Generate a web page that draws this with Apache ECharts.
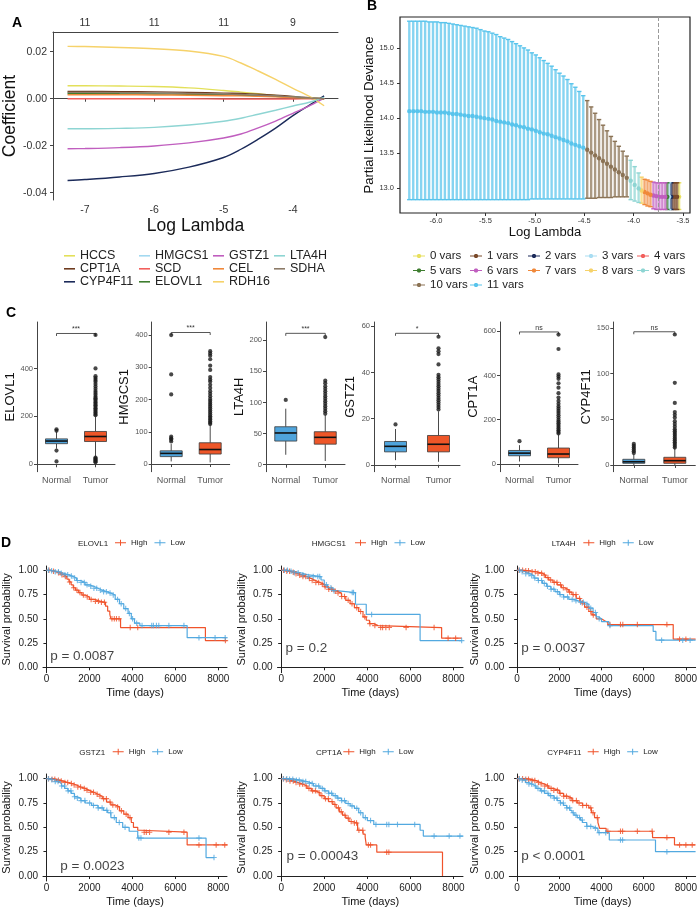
<!DOCTYPE html>
<html>
<head>
<meta charset="utf-8">
<title>LASSO, expression and survival figure</title>
<script src="https://cdn.jsdelivr.net/npm/echarts@6/dist/echarts.min.js"></script>
<style>
html,body{margin:0;padding:0;background:#ffffff;}
#main{width:700px;height:908px;}
</style>
</head>
<body>
<div id="main"></div>
<script>
// ================= DATA =================
// ---- Panel A: LASSO coefficient paths ----
const lassoGenes = ['HCCS','CPT1A','CYP4F11','HMGCS1','SCD','ELOVL1','GSTZ1','CEL','RDH16','LTA4H','SDHA'];
const lassoLogLambda = [-7.25,-7.0,-6.5,-6.0,-5.5,-5.0,-4.75,-4.5,-4.25,-4.0,-3.75,-3.55];
const coefHCCS    = [0.0055,0.0055,0.0054,0.0052,0.0046,0.0035,0.0028,0.0021,0.0014,0.0008,0.0002,0.0000];
const coefCPT1A   = [0.0031,0.0031,0.0030,0.0029,0.0027,0.0024,0.0022,0.0019,0.0015,0.0010,0.0004,0.0000];
const coefCYP4F11 = [-0.0348,-0.0344,-0.0333,-0.0318,-0.0291,-0.0250,-0.0215,-0.0172,-0.0125,-0.0072,-0.0025,0.0012];
const coefHMGCS1  = [0.0024,0.0024,0.0023,0.0022,0.0021,0.0018,0.0016,0.0014,0.0011,0.0007,0.0003,0.0000];
const coefSCD     = [0.0000,0.0000,0.0000,0.0000,0.0000,-0.0001,-0.0001,-0.0001,-0.0001,-0.0001,0.0000,0.0000];
const coefELOVL1  = [0.0022,0.0022,0.0021,0.0020,0.0019,0.0017,0.0015,0.0013,0.0010,0.0006,0.0002,0.0000];
const coefGSTZ1   = [-0.0213,-0.0212,-0.0208,-0.0201,-0.0188,-0.0167,-0.0150,-0.0124,-0.0095,-0.0062,-0.0028,0.0003];
const coefCEL     = [0.0017,0.0017,0.0017,0.0016,0.0015,0.0013,0.0012,0.0010,0.0008,0.0005,0.0002,0.0000];
const coefRDH16   = [0.0223,0.0222,0.0218,0.0213,0.0203,0.0180,0.0152,0.0118,0.0082,0.0044,0.0008,-0.0030];
const coefLTA4H   = [-0.0128,-0.0128,-0.0126,-0.0122,-0.0112,-0.0096,-0.0083,-0.0066,-0.0049,-0.0031,-0.0014,0.0006];
const coefSDHA    = [0.0027,0.0027,0.0026,0.0025,0.0023,0.0020,0.0018,0.0015,0.0012,0.0008,0.0003,0.0000];
const lassoXTicks = [-7,-6,-5,-4];
const lassoTopLabels = ['11','11','11','9'];
const lassoYTicks = [-0.04,-0.02,0,0.02];

// ---- Panel B: cross-validation curve ----
const cvLogLambda = [
-6.27,-6.23,-6.19,-6.15,-6.11,-6.07,-6.03,-5.99,-5.95,-5.91,
-5.87,-5.83,-5.79,-5.75,-5.71,-5.67,-5.63,-5.59,-5.55,-5.51,
-5.47,-5.43,-5.39,-5.35,-5.31,-5.27,-5.23,-5.19,-5.15,-5.11,
-5.07,-5.03,-4.99,-4.95,-4.91,-4.87,-4.83,-4.79,-4.75,-4.71,
-4.67,-4.63,-4.59,-4.55,-4.51,
-4.47,-4.43,-4.39,-4.35,-4.31,-4.27,-4.23,-4.19,-4.15,-4.11,-4.07,
-4.03,-3.99,-3.95,
-3.92,
-3.89,-3.86,-3.83,
-3.80,-3.77,-3.74,-3.71,-3.68,
-3.66,
-3.64,
-3.62,
-3.60,-3.58,-3.56,
-3.54];
const cvMean = [
14.10,14.10,14.10,14.10,14.09,14.09,14.09,14.08,14.08,14.08,
14.07,14.06,14.06,14.05,14.04,14.03,14.03,14.02,14.01,14.00,
13.99,13.98,13.96,13.95,13.94,13.93,13.91,13.90,13.88,13.87,
13.85,13.84,13.82,13.80,13.78,13.77,13.75,13.73,13.71,13.69,
13.67,13.64,13.62,13.60,13.58,
13.55,13.51,13.47,13.43,13.39,13.35,13.31,13.27,13.23,13.19,13.15,
13.11,13.05,13.00,
12.97,
12.95,12.93,12.91,
12.90,12.89,12.88,12.88,12.88,
12.88,
12.88,
12.88,
12.88,12.88,12.88,
12.88];
const cvUpper = [
15.38,15.38,15.38,15.38,15.38,15.37,15.37,15.37,15.36,15.36,
15.35,15.34,15.33,15.32,15.31,15.30,15.29,15.28,15.26,15.24,
15.23,15.21,15.19,15.16,15.14,15.12,15.09,15.06,15.03,15.00,
14.97,14.93,14.90,14.86,14.82,14.78,14.74,14.69,14.64,14.60,
14.55,14.49,14.44,14.38,14.32,
14.25,14.16,14.07,13.98,13.90,13.82,13.74,13.67,13.60,13.53,13.46,
13.40,13.31,13.22,
13.16,
13.13,13.12,13.10,
13.09,13.08,13.08,13.08,13.08,
13.08,
13.08,
13.08,
13.08,13.08,13.08,
13.08];
const cvLower = [
12.84,12.84,12.84,12.84,12.84,12.84,12.84,12.84,12.84,12.84,
12.84,12.84,12.84,12.84,12.84,12.84,12.84,12.84,12.84,12.84,
12.84,12.84,12.84,12.84,12.84,12.84,12.84,12.84,12.84,12.84,
12.84,12.85,12.85,12.85,12.85,12.85,12.85,12.85,12.85,12.85,
12.85,12.85,12.85,12.85,12.85,
12.86,12.86,12.86,12.87,12.87,12.87,12.87,12.88,12.88,12.88,12.88,
12.84,12.82,12.80,
12.79,
12.77,12.75,12.74,
12.71,12.70,12.70,12.70,12.70,
12.70,
12.70,
12.70,
12.70,12.70,12.70,
12.70];
const cvVars = [
11,11,11,11,11,11,11,11,11,11,
11,11,11,11,11,11,11,11,11,11,
11,11,11,11,11,11,11,11,11,11,
11,11,11,11,11,11,11,11,11,11,
11,11,11,11,11,
10,10,10,10,10,10,10,10,10,10,10,
9,9,9,
8,
7,7,7,
6,6,6,6,6,
5,
3,
2,
1,1,1,
0];
const cvLambdaMin = -3.75;
const cvXTicks = [-6.0,-5.5,-5.0,-4.5,-4.0,-3.5];
const cvYTicks = [13.0,13.5,14.0,14.5,15.0];

// ---- Panel C: expression boxplots [min, Q1, median, Q3, max] ----
const boxGenes = ['ELOVL1','HMGCS1','LTA4H','GSTZ1','CPT1A','CYP4F11'];
const boxGroups = ['Normal','Tumor'];
const boxNormal = [[65,86,97,106,135],[8,23,33,41,62],[16,38,51,61,90],[2,5.6,8.0,10.1,15.5],[11,37,49,61,85],[0,1.8,3.5,6.2,11.5]];
const boxTumor  = [[32,95,116,137,200],[5,31,45,66,120],[6,33,44,53,80],[1.3,5.6,8.9,12.7,23.2],[3,28,45,72,134],[0,1.8,4.7,8.4,18.5]];
const outNormal = [
  [140,146,57,12],
  [70,76,80,85,216,278,400],
  [104],
  [17.5],
  [103],
  [13,15,17,19,21,23]
];
const outTumor = [
  [205,210,216,222,228,234,240,246,252,258,264,270,276,282,290,298,306,315,325,335,345,352,360,368,400,540,28,24,20,16,12,8],
  [124,128,133,138,143,148,154,160,166,172,178,184,190,196,202,210,218,226,236,246,256,262,270,292,305,325,336,343,350],
  [82,86,90,94,98,102,106,110,114,118,122,126,131,135,205],
  [24,25,26,27,28,29,30,31,32,33,34,35,36,37,38,39,43.5,48,49.2,50.5,55.5],
  [138,145,152,160,168,176,184,192,200,210,220,230,240,250,260,272,285,300,320,345,365,385,395,405,520,585],
  [19,21,23,25,27,29,31,33,35,37,39,42,45,48,52,55,58,68,90,143]
];
const sigY = [546,408,211,57,597,146];
const sigLabel = ['***','***','***','*','ns','ns'];
const boxYTicks = [[0,200,400],[0,100,200,300,400],[0,50,100,150,200],[0,20,40,60],[0,200,400,600],[0,50,100,150]];

// ---- Panel D: Kaplan-Meier curves [time, survival after drop] ----
const kmGenes = ['ELOVL1','HMGCS1','LTA4H','GSTZ1','CPT1A','CYP4F11'];
const kmPText = ['p = 0.0087','p = 0.2','p = 0.0037','p = 0.0023','p = 0.00043','p < 0.0001'];
const kmPTime = [150,180,170,620,225,170];
const kmPSurv = [0.11,0.2,0.2,0.1,0.2,0.2];
const kmHighELOVL1 = [[0,1],[200,0.99],[400,0.975],[600,0.955],[800,0.935],[950,0.91],[1050,0.88],[1150,0.85],[1250,0.82],[1350,0.795],[1500,0.77],[1650,0.745],[1800,0.725],[2000,0.70],[2250,0.68],[2500,0.67],[2750,0.63],[2850,0.58],[2950,0.545],[3000,0.50],[3450,0.41],[7400,0.275],[8390,0.275]];
const kmLowELOVL1  = [[0,1],[200,0.995],[400,0.985],[600,0.97],[800,0.955],[1000,0.94],[1200,0.92],[1400,0.895],[1600,0.875],[1800,0.85],[2000,0.835],[2200,0.815],[2400,0.795],[2600,0.78],[2800,0.765],[3000,0.745],[3200,0.70],[3400,0.655],[3600,0.605],[3800,0.555],[3950,0.50],[4100,0.455],[4350,0.43],[6550,0.305],[8390,0.305]];
const kmHighHMGCS1 = [[0,1],[200,0.99],[400,0.98],[600,0.965],[800,0.95],[1000,0.935],[1200,0.915],[1400,0.895],[1600,0.875],[1800,0.855],[2000,0.83],[2200,0.805],[2400,0.785],[2600,0.765],[2800,0.73],[3000,0.69],[3200,0.655],[3400,0.615],[3600,0.575],[3800,0.52],[3950,0.485],[4100,0.45],[4300,0.43],[4500,0.41],[7450,0.30],[8390,0.30]];
const kmLowHMGCS1  = [[0,1],[300,0.99],[600,0.975],[900,0.955],[1200,0.935],[1850,0.90],[2000,0.85],[2150,0.82],[2400,0.79],[2550,0.77],[3450,0.65],[3950,0.545],[6450,0.275],[8390,0.275]];
const kmHighLTA4H  = [[0,1],[300,0.995],[600,0.985],[900,0.97],[1200,0.95],[1350,0.925],[1500,0.90],[1700,0.875],[1900,0.85],[2100,0.82],[2250,0.80],[2450,0.775],[2600,0.75],[2800,0.71],[3000,0.665],[3200,0.62],[3400,0.575],[3550,0.54],[3750,0.50],[4000,0.48],[4150,0.465],[4300,0.44],[7400,0.29],[8460,0.29]];
const kmLowLTA4H   = [[0,1],[200,0.985],[400,0.965],[600,0.945],[800,0.92],[1000,0.895],[1200,0.865],[1400,0.835],[1600,0.805],[1800,0.78],[2000,0.75],[2200,0.725],[2450,0.70],[2700,0.685],[2900,0.67],[3200,0.65],[3400,0.61],[3600,0.565],[3750,0.52],[3850,0.50],[4000,0.47],[4350,0.43],[6450,0.37],[6580,0.28],[8460,0.28]];
const kmHighGSTZ1  = [[0,1],[200,0.995],[400,0.985],[600,0.975],[800,0.96],[1000,0.95],[1200,0.935],[1400,0.915],[1600,0.90],[1800,0.88],[2000,0.86],[2200,0.84],[2400,0.82],[2600,0.795],[2800,0.76],[3000,0.73],[3200,0.71],[3400,0.67],[3600,0.635],[3800,0.60],[3950,0.55],[4050,0.50],[4250,0.47],[4400,0.45],[6550,0.32],[8430,0.32]];
const kmLowGSTZ1   = [[0,1],[200,0.99],[400,0.97],[550,0.95],[700,0.925],[850,0.90],[1000,0.875],[1150,0.85],[1300,0.815],[1400,0.80],[1600,0.775],[1800,0.75],[2100,0.725],[2400,0.70],[2650,0.675],[2850,0.65],[3000,0.60],[3250,0.55],[3550,0.50],[3850,0.46],[4250,0.39],[7430,0.19],[7810,0.19]];
const kmHighCPT1A  = [[0,1],[200,0.99],[400,0.975],[600,0.96],[800,0.945],[1000,0.925],[1200,0.90],[1400,0.875],[1600,0.855],[1800,0.825],[2000,0.795],[2200,0.765],[2400,0.735],[2550,0.70],[2700,0.66],[2850,0.625],[3000,0.595],[3150,0.56],[3300,0.545],[3550,0.47],[3800,0.43],[3900,0.40],[3950,0.32],[4440,0.245],[7490,0]];
const kmLowCPT1A   = [[0,1],[300,0.995],[600,0.985],[900,0.97],[1200,0.95],[1500,0.925],[1800,0.90],[2000,0.875],[2200,0.85],[2400,0.825],[2600,0.80],[2800,0.775],[3000,0.745],[3200,0.72],[3400,0.695],[3600,0.65],[3800,0.60],[4000,0.57],[4300,0.53],[6450,0.47],[6600,0.41],[8460,0.41]];
const kmHighCYP4F11 = [[0,1],[300,0.995],[600,0.98],[900,0.96],[1100,0.945],[1300,0.925],[1500,0.90],[1700,0.88],[2000,0.85],[2200,0.82],[2400,0.80],[2600,0.775],[2850,0.75],[3100,0.725],[3400,0.70],[3520,0.65],[3670,0.60],[3830,0.55],[3910,0.49],[4220,0.46],[6420,0.395],[7460,0.32],[8460,0.32]];
const kmLowCYP4F11  = [[0,1],[200,0.985],[400,0.96],[550,0.945],[700,0.925],[900,0.90],[1100,0.875],[1300,0.85],[1500,0.825],[1750,0.80],[1900,0.775],[2050,0.75],[2200,0.725],[2350,0.70],[2500,0.675],[2600,0.65],[2700,0.625],[2850,0.60],[3000,0.575],[3100,0.55],[3300,0.51],[3520,0.49],[3830,0.445],[4370,0.37],[6560,0.25],[8460,0.25]];
// censoring times
const censHighELOVL1 = [120,330,560,720,880,1080,1270,1420,1560,1720,1900,2080,2280,2420,2560,2700,3050,3160,3260,3380,3900,4250,8330];
const censLowELOVL1  = [90,240,410,560,690,860,990,1160,1310,1440,1610,1760,1890,2060,2210,2340,2510,2660,2790,2960,3110,3310,3480,3690,3860,4010,4200,4450,4900,4980,5120,5230,5700,6400,7100,7850,8320];
const censHighHMGCS1 = [110,260,390,560,690,860,1010,1140,1310,1440,1610,1740,1910,2040,2210,2340,2510,2640,2810,2940,3110,3290,3510,3690,3880,4120,4350,4620,4710,4860,5020,5800,7100,7750,8100];
const censLowHMGCS1  = [150,290,460,610,790,1010,1260,1490,1700,1790,2100,2310,2450,3300,3360,4200,8380];
const censHighLTA4H  = [90,260,410,540,710,860,990,1160,1290,1460,1590,1760,1890,2060,2190,2360,2490,2660,2790,2960,3090,3310,3490,3610,4400,4900,5010,5700,7100,7700,8000];
const censLowLTA4H   = [110,240,410,560,690,840,1010,1160,1290,1440,1610,1740,1910,2040,2210,2390,2610,2790,3010,3140,3310,3490,3710,3890,4400,6850,7850,8200];
const censHighGSTZ1  = [100,260,390,560,690,860,990,1160,1290,1460,1590,1760,1890,2060,2190,2360,2490,2660,2790,2960,3090,3310,3490,3710,3890,4550,4650,4800,5700,6400,7100,7900,8300];
const censLowGSTZ1   = [90,250,410,540,710,840,1010,1140,1310,1440,1610,1790,2010,2190,2410,2590,2810,2990,3160,3390,3660,4300,4400,7100,7800];
const censHighCPT1A  = [100,240,410,560,690,860,990,1160,1290,1460,1590,1760,1890,2060,2190,2360,2490,2660,2790,2960,3110,3250,3400,3500,3610,3790,4050,4150,4900,5000];
const censLowCPT1A   = [110,260,390,540,710,840,1010,1140,1310,1440,1610,1740,1910,2040,2210,2340,2510,2640,2810,2940,3110,3290,3510,3690,3910,4150,4400,4900,5000,5400,6200,7100,7800,8300];
const censHighCYP4F11 = [90,260,410,540,710,840,1010,1140,1310,1440,1610,1740,1910,2040,2210,2340,2510,2640,2810,2940,3110,3290,3490,3600,3800,4300,4900,5000,5700,6400,7100,7700,8000,8300];
const censLowCYP4F11  = [110,240,390,560,690,860,990,1160,1290,1460,1590,1760,1890,2060,2190,2360,2490,2660,2790,2960,3090,3310,3490,3710,3890,4200,4900,5000,7100];
const kmXTicks = [0,2000,4000,6000,8000];
const kmYTicks = [0,0.25,0.5,0.75,1];

// ================= STYLE / LAYOUT =================
const FONT = "'Liberation Sans', Arial, Helvetica, sans-serif";
const AXIS_C = '#333333';
const geneColors = {HCCS:'#E3E05A',CPT1A:'#6E3B1F',CYP4F11:'#1C2B5A',HMGCS1:'#A3D9F0',SCD:'#F25F5C',ELOVL1:'#3E7D2F',GSTZ1:'#C05EBF',CEL:'#F0883A',RDH16:'#F6D26A',LTA4H:'#8ED5D3',SDHA:'#8C7B68'};
const varColors = ['#E8E05E','#7A4A2A','#1C2B5A','#A9DDF2','#F25F5C','#3E7D2F','#C05EBF','#F0883A','#F6D26A','#8ED5D3','#8B7355','#58C4EC'];
const NORMAL_C = '#4FA4DC';
const TUMOR_C = '#EE5628';
const HIGH_C = '#F0532B';
const LOW_C = '#52A9E0';
const PLUS = 'path://M4,0H6V4H10V6H6V10H4V6H0V4H4Z';
const KM_ICON = 'path://M0,2.5H11V3.5H0Z M5,0H6V6H5Z';
const CV_ICON = 'path://M0,2.5H12V3.5H0Z M5,1H7L8,2V4L7,5H5L4,4V2Z';

const boxLayout = [
  {left:37, width:78, min:-31, max:594, gap:18},
  {left:151.7, width:78, min:-23.8, max:440.6, gap:20},
  {left:266, width:79, min:-11.2, max:229.2, gap:16.5},
  {left:374, width:86, min:-3.0, max:61.9, gap:17.5},
  {left:500, width:78, min:-35, max:642, gap:19},
  {left:613.3, width:82, min:-7.4, max:156.7, gap:19}
];
const kmCols = [
  {left:42.5, width:184.5, min:-160, max:8405, gap:31},
  {left:277.5, width:185.5, min:-170, max:8442, gap:30.5},
  {left:509.3, width:190.7, min:-370, max:8463, gap:27}
];
const kmRows = [
  {top:566, height:106.7, min:-0.0557, max:1.0443, legendTop:538.8},
  {top:774, height:107, min:-0.051, max:1.048, legendTop:747.8}
];
const kmLegendPos = [
  {label:78, legend:115},{label:311.7, legend:355},{label:551.7, legend:583.3},
  {label:79.3, legend:112.7},{label:316, legend:343.3},{label:547.3, legend:587.7}
];

// ================= BUILD =================
const lassoCoef = {HCCS:coefHCCS,CPT1A:coefCPT1A,CYP4F11:coefCYP4F11,HMGCS1:coefHMGCS1,SCD:coefSCD,ELOVL1:coefELOVL1,GSTZ1:coefGSTZ1,CEL:coefCEL,RDH16:coefRDH16,LTA4H:coefLTA4H,SDHA:coefSDHA};
const kmHigh = [kmHighELOVL1,kmHighHMGCS1,kmHighLTA4H,kmHighGSTZ1,kmHighCPT1A,kmHighCYP4F11];
const kmLow = [kmLowELOVL1,kmLowHMGCS1,kmLowLTA4H,kmLowGSTZ1,kmLowCPT1A,kmLowCYP4F11];
const censHigh = [censHighELOVL1,censHighHMGCS1,censHighLTA4H,censHighGSTZ1,censHighCPT1A,censHighCYP4F11];
const censLow = [censLowELOVL1,censLowHMGCS1,censLowLTA4H,censLowGSTZ1,censLowCPT1A,censLowCYP4F11];

function survAt(curve, t) {
  let v = curve[0][1];
  for (const p of curve) { if (p[0] <= t) v = p[1]; else break; }
  return v;
}

const grid = [], xAxis = [], yAxis = [], series = [], legend = [], title = [];

function lineAxis(color) {
  return {show:true, lineStyle:{color:color || AXIS_C, width:1}};
}

// ---- Panel A ----
grid.push({left:53, top:32, width:285, height:168});
xAxis.push({type:'value', gridIndex:0, min:-7.46, max:-3.35, splitLine:{show:false},
  axisLine:lineAxis('#444'), axisTick:{show:true, length:3, lineStyle:{color:'#444'}, customValues:lassoXTicks},
  axisLabel:{customValues:lassoXTicks, fontSize:10.5, color:'#333', margin:5, fontFamily:FONT, formatter:v=>String(v)},
  name:'Log Lambda', nameLocation:'middle', nameGap:12, nameTextStyle:{fontSize:17.5, color:'#111', fontFamily:FONT}});
xAxis.push({type:'value', gridIndex:0, position:'top', min:-7.46, max:-3.35, splitLine:{show:false},
  axisLine:lineAxis('#444'), axisTick:{show:false},
  axisLabel:{customValues:lassoXTicks, fontSize:10.5, color:'#333', margin:3, fontFamily:FONT,
    formatter:v=>{ const k = lassoXTicks.indexOf(Math.round(v)); return k>=0 ? lassoTopLabels[k] : ''; }}});
yAxis.push({type:'value', gridIndex:0, min:-0.0431, max:0.0284, splitLine:{show:false},
  axisLine:lineAxis('#444'), axisTick:{show:true, length:3, lineStyle:{color:'#444'}, customValues:lassoYTicks},
  axisLabel:{customValues:lassoYTicks, fontSize:10.5, color:'#333', margin:6, fontFamily:FONT, formatter:v=>v.toFixed(2)},
  name:'Coefficient', nameLocation:'middle', nameGap:31, nameTextStyle:{fontSize:17.5, color:'#111', fontFamily:FONT}});
lassoGenes.forEach(g => {
  series.push({type:'line', name:g, xAxisIndex:0, yAxisIndex:0, smooth:0.35, showSymbol:false, silent:true,
    data: lassoLogLambda.map((x,i)=>[x, lassoCoef[g][i]]),
    lineStyle:{width:1.4, color:geneColors[g]}, itemStyle:{color:geneColors[g]}, z:3});
});
const lassoLegendCols = [
  {left:64, names:['HCCS','CPT1A','CYP4F11']},
  {left:139, names:['HMGCS1','SCD','ELOVL1']},
  {left:213, names:['GSTZ1','CEL','RDH16']},
  {left:274, names:['LTA4H','SDHA']}
];
lassoLegendCols.forEach(c => legend.push({orient:'vertical', left:c.left, top:249.3, padding:0, itemGap:0,
  itemWidth:11, itemHeight:1.6, icon:'rect', selectedMode:false, data:c.names,
  textStyle:{fontSize:12.5, lineHeight:11.3, color:'#222', fontFamily:FONT}}));

// ---- Panel B ----
grid.push({left:400, top:17, width:290, height:196, show:true, borderColor:'#222', borderWidth:1.2, backgroundColor:'transparent'});
xAxis.push({type:'value', gridIndex:1, min:-6.364, max:-3.43, splitLine:{show:false},
  axisLine:{show:false}, axisTick:{show:true, length:3, lineStyle:{color:'#333'}, customValues:cvXTicks},
  axisLabel:{customValues:cvXTicks, fontSize:7.5, color:'#333', margin:4, fontFamily:FONT, formatter:v=>v.toFixed(1)},
  name:'Log Lambda', nameLocation:'middle', nameGap:11, nameTextStyle:{fontSize:13, color:'#111', fontFamily:FONT}});
yAxis.push({type:'value', gridIndex:1, min:12.65, max:15.44, splitLine:{show:false},
  axisLine:{show:false}, axisTick:{show:true, length:3, lineStyle:{color:'#333'}, customValues:cvYTicks},
  axisLabel:{customValues:cvYTicks, fontSize:7.5, color:'#333', margin:6, fontFamily:FONT, formatter:v=>v.toFixed(1)},
  name:'Partial Likelihood Deviance', nameLocation:'middle', nameGap:22, nameTextStyle:{fontSize:13, color:'#111', fontFamily:FONT}});

function renderErr(params, api) {
  const x = api.value(0);
  const lo = api.coord([x, api.value(1)]);
  const hi = api.coord([x, api.value(2)]);
  const md = api.coord([x, api.value(3)]);
  const c = api.visual('color');
  return {type:'group', children:[
    {type:'line', shape:{x1:lo[0],y1:lo[1],x2:hi[0],y2:hi[1]}, style:{stroke:c, lineWidth:2.4, opacity:0.72}},
    {type:'line', shape:{x1:hi[0]-2.2,y1:hi[1],x2:hi[0]+2.2,y2:hi[1]}, style:{stroke:c, lineWidth:1.4}},
    {type:'line', shape:{x1:lo[0]-2.2,y1:lo[1],x2:lo[0]+2.2,y2:lo[1]}, style:{stroke:c, lineWidth:1.4}},
    {type:'circle', shape:{cx:md[0],cy:md[1],r:2.2}, style:{fill:c}}
  ]};
}
for (let k = 0; k <= 11; k++) {
  const data = [];
  cvLogLambda.forEach((x,i) => { if (cvVars[i] === k) data.push([x, cvLower[i], cvUpper[i], cvMean[i]]); });
  const s = {type:'custom', name:k+' vars', xAxisIndex:2, yAxisIndex:1, silent:true,
    itemStyle:{color:varColors[k]}, renderItem:renderErr, encode:{x:0, y:[1,2,3]}, data:data, clip:true};
  if (k === 6) {
    s.markLine = {silent:true, symbol:'none', label:{show:false}, lineStyle:{type:'dashed', color:'#9a9a9a', width:1},
      data:[{xAxis:cvLambdaMin}]};
  }
  series.push(s);
}
const cvLegendCols = [
  {left:413, names:['0 vars','5 vars','10 vars']},
  {left:470, names:['1 vars','6 vars','11 vars']},
  {left:528, names:['2 vars','7 vars']},
  {left:585, names:['3 vars','8 vars']},
  {left:637, names:['4 vars','9 vars']}
];
cvLegendCols.forEach(c => legend.push({orient:'vertical', left:c.left, top:248.75, padding:0, itemGap:0,
  itemWidth:12, itemHeight:4, selectedMode:false, data:c.names.map(n=>({name:n, icon:CV_ICON})),
  textStyle:{fontSize:11.5, lineHeight:14.5, color:'#222', fontFamily:FONT}}));

// ---- Panel C ----
const boxFill = [NORMAL_C, TUMOR_C];
function renderBox(params, api) {
  const c = api.value(0);
  const pMin = api.coord([c, api.value(1)]);
  const pQ1 = api.coord([c, api.value(2)]);
  const pMed = api.coord([c, api.value(3)]);
  const pQ3 = api.coord([c, api.value(4)]);
  const pMax = api.coord([c, api.value(5)]);
  const x = pMed[0], hw = 11;
  return {type:'group', children:[
    {type:'line', shape:{x1:x,y1:pMax[1],x2:x,y2:pQ3[1]}, style:{stroke:'#4a4a4a', lineWidth:1}},
    {type:'line', shape:{x1:x,y1:pQ1[1],x2:x,y2:pMin[1]}, style:{stroke:'#4a4a4a', lineWidth:1}},
    {type:'rect', shape:{x:x-hw, y:pQ3[1], width:2*hw, height:pQ1[1]-pQ3[1]}, style:{fill:boxFill[c], stroke:'#3a3a3a', lineWidth:0.8}},
    {type:'line', shape:{x1:x-hw,y1:pMed[1],x2:x+hw,y2:pMed[1]}, style:{stroke:'#111', lineWidth:1.6}}
  ]};
}
boxGenes.forEach((g, i) => {
  const L = boxLayout[i];
  const gi = grid.length;
  grid.push({left:L.left, top:322, width:L.width, height:149.7});
  const xi = xAxis.length, yi = yAxis.length;
  xAxis.push({type:'category', gridIndex:gi, data:boxGroups, boundaryGap:true,
    axisLine:lineAxis('#444'), axisTick:{show:true, length:3, alignWithLabel:true, lineStyle:{color:'#444'}},
    axisLabel:{fontSize:9, color:'#555', margin:4, fontFamily:FONT, interval:0}});
  yAxis.push({type:'value', gridIndex:gi, min:L.min, max:L.max, splitLine:{show:false},
    axisLine:lineAxis('#444'), axisTick:{show:true, length:3, lineStyle:{color:'#444'}, customValues:boxYTicks[i]},
    axisLabel:{customValues:boxYTicks[i], fontSize:7.5, color:'#555', margin:4, fontFamily:FONT},
    name:g, nameLocation:'middle', nameGap:L.gap, nameTextStyle:{fontSize:13, color:'#111', fontFamily:FONT}});
  series.push({type:'custom', name:g+' box', xAxisIndex:xi, yAxisIndex:yi, silent:true,
    encode:{x:0, y:[1,2,3,4,5]}, renderItem:renderBox,
    data:[[0].concat(boxNormal[i]), [1].concat(boxTumor[i])], z:2});
  series.push({type:'scatter', name:g+' outliers', xAxisIndex:xi, yAxisIndex:yi, silent:true, symbolSize:4.2,
    itemStyle:{color:'#1a1a1a'}, z:3,
    data: outNormal[i].map(v=>['Normal', v]).concat(outTumor[i].map(v=>['Tumor', v]))});
  const lab = sigLabel[i];
  series.push({type:'custom', name:g+' signif', xAxisIndex:xi, yAxisIndex:yi, silent:true,
    data:[[0, sigY[i]]],
    renderItem:(p, api) => {
      const y = api.value(1);
      const a = api.coord([0, y]); const b = api.coord([1, y]);
      return {type:'group', children:[
        {type:'polyline', shape:{points:[[a[0],a[1]+2.5],[a[0],a[1]],[b[0],b[1]],[b[0],b[1]+2.5]]},
          style:{stroke:'#444', lineWidth:0.9, fill:'none'}},
        {type:'text', style:{text:lab, x:(a[0]+b[0])/2, y:a[1]-0.5, align:'center', verticalAlign:'bottom',
          fontSize:7, fill:'#333', fontFamily:FONT}}
      ]};
    }});
});

// ---- Panel D ----
kmGenes.forEach((g, j) => {
  const col = kmCols[j % 3], row = kmRows[Math.floor(j / 3)];
  const gi = grid.length;
  grid.push({left:col.left, top:row.top, width:col.width, height:row.height});
  const xi = xAxis.length, yi = yAxis.length;
  xAxis.push({type:'value', gridIndex:gi, min:col.min, max:col.max, splitLine:{show:false},
    axisLine:lineAxis('#222'), axisTick:{show:true, length:3, lineStyle:{color:'#222'}, customValues:kmXTicks},
    axisLabel:{customValues:kmXTicks, fontSize:10, color:'#222', margin:2, fontFamily:FONT, formatter:v=>String(v)},
    name:'Time (days)', nameLocation:'middle', nameGap:15, nameTextStyle:{fontSize:11, color:'#111', fontFamily:FONT}});
  yAxis.push({type:'value', gridIndex:gi, min:row.min, max:row.max, splitLine:{show:false},
    axisLine:lineAxis('#222'), axisTick:{show:true, length:3, lineStyle:{color:'#222'}, customValues:kmYTicks},
    axisLabel:{customValues:kmYTicks, fontSize:10, color:'#222', margin:5, fontFamily:FONT, formatter:v=>v.toFixed(2)},
    name:'Survival probability', nameLocation:'middle', nameGap:col.gap, nameTextStyle:{fontSize:11, color:'#111', fontFamily:FONT}});
  [['High', kmHigh[j], censHigh[j], HIGH_C], ['Low', kmLow[j], censLow[j], LOW_C]].forEach(([nm, curve, cens, c]) => {
    series.push({type:'line', name:nm, xAxisIndex:xi, yAxisIndex:yi, step:'end', showSymbol:false, silent:true,
      data:curve, lineStyle:{width:1.2, color:c}, itemStyle:{color:c}, z:3});
    series.push({type:'scatter', name:nm, xAxisIndex:xi, yAxisIndex:yi, silent:true, symbol:PLUS, symbolSize:5.5,
      data:cens.map(t=>[t, survAt(curve, t)]), itemStyle:{color:c}, z:4});
  });
  series.push({type:'scatter', name:g+' pval', xAxisIndex:xi, yAxisIndex:yi, silent:true, symbolSize:1,
    itemStyle:{color:'transparent'}, data:[[kmPTime[j], kmPSurv[j]]],
    label:{show:true, position:'right', distance:0, formatter:kmPText[j], fontSize:13.5, color:'#111', fontFamily:FONT}});
  const lp = kmLegendPos[j];
  title.push({text:g, left:lp.label, top:row.legendTop + 0.5, padding:0,
    textStyle:{fontSize:8, fontWeight:'normal', color:'#222', fontFamily:FONT}});
  legend.push({orient:'horizontal', left:lp.legend, top:row.legendTop, padding:0, itemGap:7,
    itemWidth:11, itemHeight:6, selectedMode:false,
    data:[{name:'High', icon:KM_ICON}, {name:'Low', icon:KM_ICON}],
    textStyle:{fontSize:8, color:'#222', fontFamily:FONT}});
});

// panel letters
[['A',12,16],['B',367,-1],['C',6,306],['D',1,536]].forEach(([t,l,tp]) => title.push({text:t, left:l, top:tp, padding:0,
  textStyle:{fontSize:14, fontWeight:'bold', color:'#000', fontFamily:FONT}}));

const chart = echarts.init(document.getElementById('main'), null, {renderer:'canvas', width:700, height:908});
chart.setOption({
  animation:false,
  backgroundColor:'#ffffff',
  textStyle:{fontFamily:FONT},
  title:title, legend:legend, grid:grid, xAxis:xAxis, yAxis:yAxis, series:series
});
</script>
</body>
</html>
